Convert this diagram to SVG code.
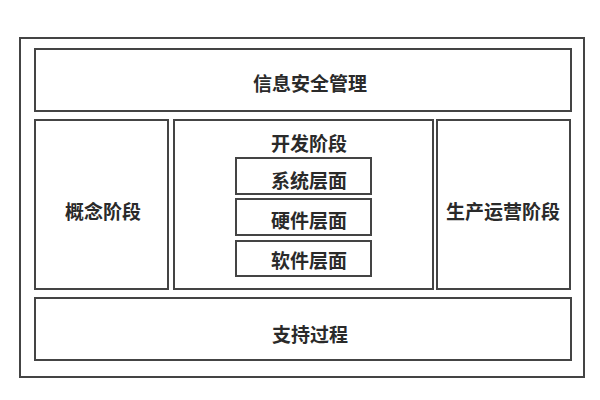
<svg xmlns="http://www.w3.org/2000/svg" width="600" height="400" viewBox="0 0 600 400">
<style>
.box{fill:#fff;stroke:#444;stroke-width:2}
.t{font-family:"Noto Sans CJK SC",sans-serif;font-size:19px;font-weight:bold;fill:#2a2a2a;text-anchor:middle;dominant-baseline:central}
</style>
<rect width="600" height="400" fill="#fff"/>
<g id="outer"><rect class="box" x="20" y="38" width="564" height="339"/></g>
<g id="security"><rect class="box" x="35" y="49" width="536" height="62"/><text class="t" x="310" y="82">信息安全管理</text></g>
<g id="concept"><rect class="box" x="35" y="120" width="133" height="169"/><text class="t" x="103" y="210">概念阶段</text></g>
<g id="dev"><rect class="box" x="174" y="120" width="259" height="169"/><text class="t" x="309" y="142">开发阶段</text></g>
<g id="system"><rect class="box" x="236" y="158" width="135" height="36"/><text class="t" x="309" y="179">系统层面</text></g>
<g id="hardware"><rect class="box" x="236" y="199" width="135" height="36"/><text class="t" x="309" y="219">硬件层面</text></g>
<g id="software"><rect class="box" x="236" y="241" width="135" height="35"/><text class="t" x="309" y="259">软件层面</text></g>
<g id="operation"><rect class="box" x="437" y="120" width="133" height="169"/><text class="t" x="503" y="210">生产运营阶段</text></g>
<g id="support"><rect class="box" x="35" y="298" width="536" height="62"/><text class="t" x="310" y="333">支持过程</text></g>
<g id="connectors"></g>
</svg>
